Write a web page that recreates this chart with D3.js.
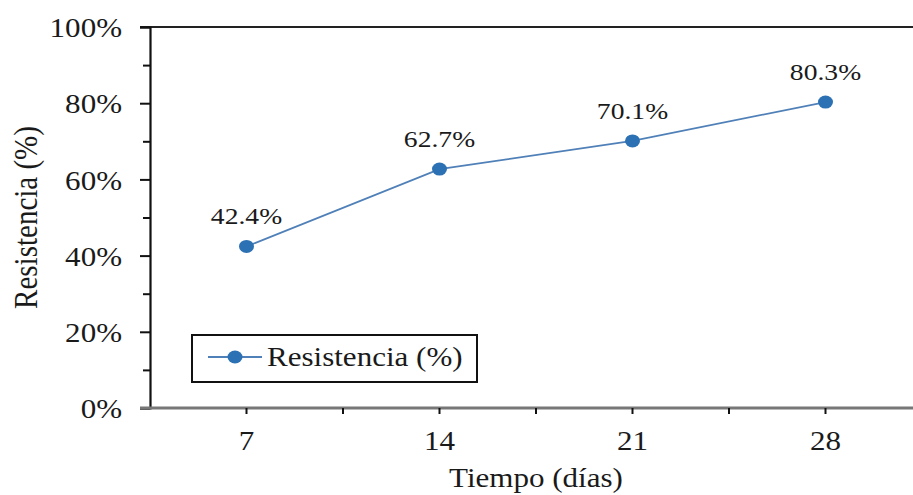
<!DOCTYPE html>
<html>
<head>
<meta charset="utf-8">
<script src="https://cdn.jsdelivr.net/npm/d3@7"></script>
<style>
  body { margin: 0; background: #fff; }
  svg text { font-family: "Liberation Serif", "Times New Roman", serif; fill: #1a1a1a; }
</style>
</head>
<body>
<svg width="913" height="495"></svg>
<script>
// data
var days = ["7", "14", "21", "28"];
var resistencia = [0.424, 0.627, 0.701, 0.803];
var yTicks = [0, 0.2, 0.4, 0.6, 0.8, 1];
var yMinor = [0.1, 0.3, 0.5, 0.7, 0.9];
var seriesName = "Resistencia (%)";

function main() {
  var data = days.map(function(d, i) { return {day: d, v: resistencia[i]}; });

  var svg = d3.select("svg");
  var sx = 1.15; // picture looks stretched sideways

  var pLeft = 150, pRight = 922, pTop = 27, pBottom = 408;

  var x = d3.scaleBand().domain(days).range([pLeft, pRight]).padding(0);
  var y = d3.scaleLinear().domain([0, 1]).range([pBottom, pTop]);

  // top border
  svg.append("line")
    .attr("x1", pLeft - 10).attr("x2", pRight)
    .attr("y1", y(1)).attr("y2", y(1))
    .attr("stroke", "#222").attr("stroke-width", 2);

  // y axis
  var gy = svg.append("g").attr("transform", "translate(" + pLeft + ",0)");
  gy.call(d3.axisLeft(y).tickValues(yTicks).tickFormat(d3.format(".0%")).tickSize(10).tickPadding(0));
  gy.select(".domain").attr("stroke", "#111").attr("stroke-width", 2.2);
  gy.selectAll(".tick line").attr("stroke", "#111").attr("stroke-width", 2);
  gy.selectAll(".tick text")
    .attr("x", -28 / sx).attr("dy", "0.36em")
    .attr("transform", "scale(" + sx + ",1)")
    .style("font-size", "27px");

  var gyMinor = svg.append("g").attr("transform", "translate(" + pLeft + ",0)");
  gyMinor.call(d3.axisLeft(y).tickValues(yMinor).tickFormat("").tickSize(7));
  gyMinor.select(".domain").remove();
  gyMinor.selectAll(".tick line").attr("stroke", "#111").attr("stroke-width", 2);

  // x axis
  var gx = svg.append("g").attr("transform", "translate(0," + pBottom + ")");
  gx.call(d3.axisBottom(x).tickSize(6).tickSizeOuter(0));
  gx.select(".domain").attr("d", "M" + (pLeft - 10) + ",0H" + pRight)
    .attr("stroke", "#777").attr("stroke-width", 3);
  gx.selectAll(".tick line").attr("stroke", "#111").attr("stroke-width", 2);
  gx.selectAll(".tick text")
    .attr("y", 42).attr("dy", 0)
    .attr("transform", "scale(" + sx + ",1)")
    .style("font-size", "27px");

  // ticks between categories
  svg.append("g").selectAll("line")
    .data(days.slice(1))
    .enter().append("line")
    .attr("x1", function(d) { return x(d); })
    .attr("x2", function(d) { return x(d); })
    .attr("y1", pBottom).attr("y2", pBottom + 6)
    .attr("stroke", "#111").attr("stroke-width", 2);

  // axis titles
  svg.append("text")
    .attr("transform", "translate(" + ((pLeft + pRight) / 2) + ",487) scale(" + sx + ",1)")
    .attr("text-anchor", "middle")
    .style("font-size", "27px")
    .text("Tiempo (días)");

  svg.append("text")
    .attr("transform", "translate(37," + ((pTop + pBottom) / 2) + ") scale(" + sx + ",1) rotate(-90)")
    .attr("text-anchor", "middle")
    .style("font-size", "29px")
    .text("Resistencia (%)");

  // line + markers
  var cx = function(d) { return x(d.day) + x.bandwidth() / 2; };

  svg.append("path")
    .datum(data)
    .attr("fill", "none")
    .attr("stroke", "#5080b8")
    .attr("stroke-width", 1.8)
    .attr("d", d3.line().x(cx).y(function(d) { return y(d.v); }));

  svg.selectAll(".pt").data(data)
    .enter().append("ellipse")
    .attr("class", "pt")
    .attr("cx", cx)
    .attr("cy", function(d) { return y(d.v); })
    .attr("rx", 7.5).attr("ry", 6.5)
    .attr("fill", "#2c71b3");

  svg.selectAll(".lbl").data(data)
    .enter().append("text")
    .attr("class", "lbl")
    .attr("transform", function(d) { return "translate(" + cx(d) + "," + (y(d.v) - 22) + ") scale(" + sx + ",1)"; })
    .attr("text-anchor", "middle")
    .style("font-size", "24px")
    .text(function(d) { return d3.format(".1%")(d.v); });

  // legend
  var lg = svg.append("g");
  lg.append("rect")
    .attr("x", 192).attr("y", 335)
    .attr("width", 285).attr("height", 47)
    .attr("fill", "#fff").attr("stroke", "#111").attr("stroke-width", 2);
  lg.append("line")
    .attr("x1", 208).attr("x2", 262).attr("y1", 357).attr("y2", 357)
    .attr("stroke", "#5080b8").attr("stroke-width", 1.8);
  lg.append("ellipse")
    .attr("cx", 235).attr("cy", 357).attr("rx", 7.5).attr("ry", 6.5)
    .attr("fill", "#2c71b3");
  lg.append("text")
    .attr("transform", "translate(267,366) scale(" + sx + ",1)")
    .style("font-size", "27px")
    .text(seriesName);
}
main();
</script>
</body>
</html>
